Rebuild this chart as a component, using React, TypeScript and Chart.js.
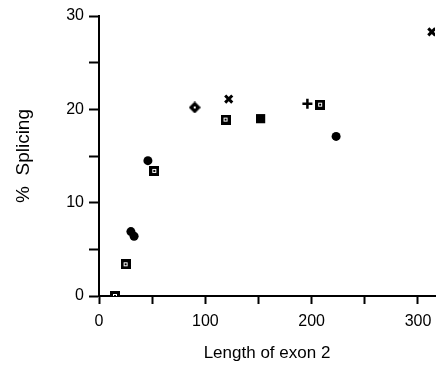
import React, { useEffect, useRef } from "react";
import { Chart, registerables } from "chart.js";

Chart.register(...registerables);

const xTicks = [0, 100, 200, 300];
const yTicks = [0, 10, 20, 30];

const openSquareX = [15, 25, 52, 119, 208];
const openSquareY = [0, 3.4, 13.4, 18.9, 20.5];
const filledCircleX = [30, 33, 46, 223];
const filledCircleY = [6.9, 6.4, 14.5, 17.1];
const openDiamondX = [90];
const openDiamondY = [20.2];
const crossX = [122, 313];
const crossY = [21.1, 28.3];
const plusX = [196];
const plusY = [20.6];
const filledSquareX = [152];
const filledSquareY = [19.0];

function pts(xs: number[], ys: number[]) {
  return xs.map((x, i) => ({ x, y: ys[i] }));
}

function makeOpenSquare(): HTMLCanvasElement {
  const c = document.createElement("canvas");
  c.width = 10;
  c.height = 10;
  const g = c.getContext("2d")!;
  g.fillStyle = "#000";
  g.fillRect(0, 0, 10, 10);
  g.fillStyle = "#fff";
  g.fillRect(3, 3, 4, 4);
  g.fillStyle = "#000";
  g.fillRect(4, 4, 2, 2);
  return c;
}

function makeOpenDiamond(): HTMLCanvasElement {
  const c = document.createElement("canvas");
  c.width = 12;
  c.height = 12;
  const g = c.getContext("2d")!;
  g.fillStyle = "#000";
  g.beginPath();
  g.moveTo(6, 0);
  g.lineTo(12, 6);
  g.lineTo(6, 12);
  g.lineTo(0, 6);
  g.closePath();
  g.fill();
  g.fillStyle = "#fff";
  g.fillRect(5, 5, 2, 2);
  return c;
}

export default function App() {
  const ref = useRef<HTMLCanvasElement>(null);
  useEffect(() => {
    document.body.style.margin = "0";
    const font = "'Liberation Sans', Arial, sans-serif";
    const sq = makeOpenSquare();
    const dm = makeOpenDiamond();
    const chart = new Chart(ref.current!, {
      type: "scatter",
      data: {
        datasets: [
          { data: pts(openSquareX, openSquareY), pointStyle: sq as any, radius: 5 },
          {
            data: pts(filledCircleX, filledCircleY),
            pointStyle: "circle",
            radius: 4.5,
            backgroundColor: "#000",
            borderColor: "#000",
            borderWidth: 0,
          },
          { data: pts(openDiamondX, openDiamondY), pointStyle: dm as any, radius: 5 },
          {
            data: pts(crossX, crossY),
            pointStyle: "crossRot",
            radius: 5,
            borderColor: "#000",
            borderWidth: 3,
          },
          {
            data: pts(plusX, plusY),
            pointStyle: "cross",
            radius: 5,
            borderColor: "#000",
            borderWidth: 2.5,
          },
          {
            data: pts(filledSquareX, filledSquareY),
            pointStyle: "rect",
            radius: 6.5,
            backgroundColor: "#000",
            borderColor: "#000",
            borderWidth: 0,
          },
        ],
      },
      options: {
        animation: false,
        responsive: false,
        plugins: { legend: { display: false }, tooltip: { enabled: false } },
        layout: { padding: { top: 16, left: 0, right: 0, bottom: 0 } },
        scales: {
          x: {
            type: "linear",
            min: 0,
            max: 316,
            afterFit: (s: any) => {
              s.height = 72;
            },
            border: { display: true, color: "#000", width: 2 },
            grid: { drawOnChartArea: false, drawTicks: true, tickLength: 8, color: "#000", tickWidth: 2 },
            ticks: {
              stepSize: 50,
              includeBounds: false,
              maxRotation: 0,
              autoSkip: false,
              padding: 8,
              color: "#000",
              font: { family: font, size: 16 },
              callback: (v: any) => (xTicks.includes(Number(v)) ? String(v) : ""),
            },
            title: {
              display: true,
              text: "Length of exon 2",
              color: "#000",
              font: { family: font, size: 17 },
              padding: { top: 0, bottom: 4 },
            },
          },
          y: {
            type: "linear",
            min: 0,
            max: 30,
            afterFit: (s: any) => {
              s.width = 99;
            },
            border: { display: true, color: "#000", width: 2 },
            grid: { drawOnChartArea: false, drawTicks: true, tickLength: 10, color: "#000", tickWidth: 2 },
            ticks: {
              stepSize: 5,
              autoSkip: false,
              padding: 5,
              color: "#000",
              font: { family: font, size: 16 },
              callback: (v: any) => (yTicks.includes(Number(v)) ? String(v) : ""),
            },
            title: {
              display: true,
              text: "%  Splicing",
              color: "#000",
              font: { family: font, size: 19 },
              padding: { top: 12, bottom: 0 },
            },
          },
        },
      },
    });
    return () => chart.destroy();
  }, []);
  return <canvas ref={ref} width={443} height={368} style={{ display: "block" }} />;
}
